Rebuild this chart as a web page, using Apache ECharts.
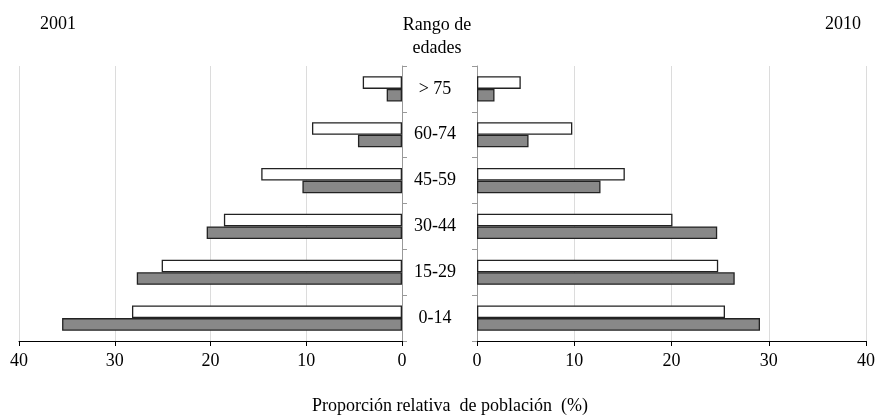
<!DOCTYPE html>
<html>
<head>
<meta charset="utf-8">
<script src="https://cdn.jsdelivr.net/npm/echarts@6/dist/echarts.min.js"></script>
<style>html,body{margin:0;padding:0;background:#fff}#c{width:878px;height:416px}</style>
</head>
<body>
<div id="c"></div>
<script>
const categories = ['0-14', '15-29', '30-44', '45-59', '60-74', '> 75'];
const xTicks = [0, 10, 20, 30, 40];
// 2001 (left side)
const white2001 = [28.2, 25.1, 18.6, 14.7, 9.4, 4.1];
const gray2001  = [35.5, 27.7, 20.4, 10.4, 4.6, 1.6];
// 2010 (right side)
const white2010 = [25.5, 24.8, 20.1, 15.2, 9.8, 4.5];
const gray2010  = [29.1, 26.5, 24.7, 12.7, 5.3, 1.8];

const FONT = 'Liberation Serif';
const txt = {fontFamily: FONT, fontSize: 18, color: '#000', fontWeight: 'normal'};

function xAxisCfg(idx, inverse) {
  return {
    type: 'value', gridIndex: idx, min: 0, max: 40, interval: 10, inverse: inverse,
    axisLine: {show: true, lineStyle: {color: '#000', width: 1}},
    axisTick: {show: true, length: 5, lineStyle: {color: '#000'}},
    axisLabel: Object.assign({margin: 11}, txt),
    splitLine: {show: true, lineStyle: {color: '#dcdcdc', width: 1}}
  };
}
function barStyle(fill) {
  return {color: fill, borderColor: '#222', borderWidth: 1.3};
}
const chart = echarts.init(document.getElementById('c'), null, {renderer: 'canvas'});
chart.setOption({
  animation: false,
  backgroundColor: '#fff',
  title: [
    {text: '2001', left: 53, top: 10, textAlign: 'center', textStyle: txt},
    {text: '2010', left: 838, top: 10, textAlign: 'center', textStyle: txt},
    {text: 'Rango de\nedades', left: 432, top: 9, textAlign: 'center', textStyle: Object.assign({lineHeight: 23}, txt)},
    {text: 'Proporción relativa  de población  (%)', left: 445, top: 392, textAlign: 'center', textStyle: txt}
  ],
  grid: [
    {left: 19, right: 476, top: 66, bottom: 75},
    {left: 477, right: 9, top: 66, bottom: 75}
  ],
  xAxis: [xAxisCfg(0, true), xAxisCfg(1, false)],
  yAxis: [
    {type: 'category', gridIndex: 0, data: categories, position: 'right',
     axisLine: {show: true, lineStyle: {color: '#999'}},
     axisTick: {show: true, length: 5, lineStyle: {color: '#999'}},
     axisLabel: Object.assign({margin: 33, align: 'center'}, txt),
     splitLine: {show: false}},
    {type: 'category', gridIndex: 1, data: categories, position: 'left',
     axisLine: {show: true, lineStyle: {color: '#999'}},
     axisTick: {show: true, length: 5, lineStyle: {color: '#999'}},
     axisLabel: {show: false},
     splitLine: {show: false}}
  ],
  series: [
    {type: 'bar', xAxisIndex: 0, yAxisIndex: 0, data: white2001, itemStyle: barStyle('#ffffff'), barGap: '0%', barCategoryGap: '45%'},
    {type: 'bar', xAxisIndex: 0, yAxisIndex: 0, data: gray2001, itemStyle: barStyle('#888888'), barGap: '0%', barCategoryGap: '45%'},
    {type: 'bar', xAxisIndex: 1, yAxisIndex: 1, data: white2010, itemStyle: barStyle('#ffffff'), barGap: '0%', barCategoryGap: '45%'},
    {type: 'bar', xAxisIndex: 1, yAxisIndex: 1, data: gray2010, itemStyle: barStyle('#888888'), barGap: '0%', barCategoryGap: '45%'}
  ]
});
</script>
</body>
</html>
